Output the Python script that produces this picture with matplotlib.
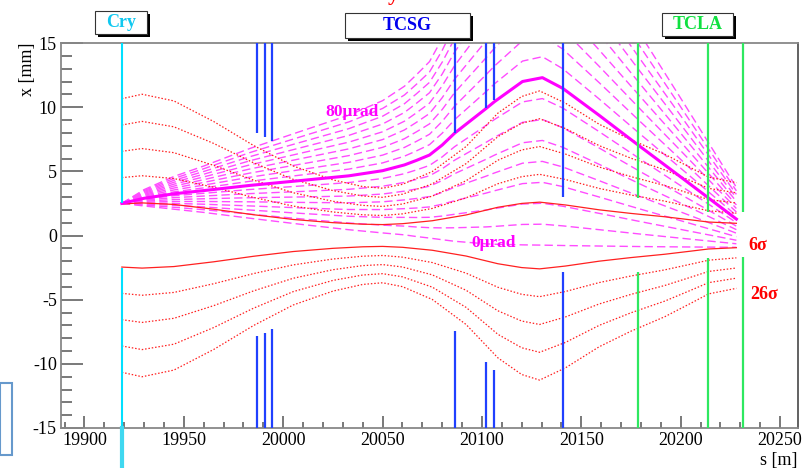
import matplotlib.pyplot as plt
import matplotlib.patches as patches
import numpy as np

plt.rcParams['font.family'] = ['Liberation Serif', 'DejaVu Serif']
plt.rcParams['axes.unicode_minus'] = False

# collimator positions [m] and jaw edges [mm]
cry_s = 19918.8
cry_jaw = 2.5
tcsg_s = [19986.6, 19990.6, 19994.6, 20086.2, 20102.1, 20106.3, 20140.6]
tcsg_up = [7.97, 7.66, 7.37, 7.97, 9.9, 10.55, 2.98]
tcsg_dn = [-7.86, -7.6, -7.29, -7.47, -9.88, -10.45, -2.85]
tcla_s = [20178.3, 20213.8, 20231.4]
tcla_up = [2.91, 1.82, 1.82]
tcla_dn = [-2.85, -1.76, -1.71]

# 6 sigma beam envelope (half width, mm)
env_s = [19918.8, 19929, 19945, 19965, 19985, 20005, 20025, 20040, 20050, 20060,
         20075, 20092, 20108, 20120, 20129, 20142, 20159, 20175, 20192, 20205,
         20214, 20228]
env_6sig = [2.46, 2.54, 2.42, 2.05, 1.62, 1.25, 1.0, 0.88, 0.85, 0.92,
            1.15, 1.6, 2.2, 2.5, 2.6, 2.38, 2.0, 1.72, 1.46, 1.22,
            1.05, 0.95]
n_sigmas = [6, 11, 16, 21, 26]

# channelled trajectories from the crystal: 0 and 80 urad kicks
traj_s = [19918.8, 19930, 19945, 19960, 19983, 20010, 20033, 20050, 20061,
          20067, 20073.6, 20080, 20086.2, 20102.1, 20106.3, 20120.4, 20130.4,
          20140.6, 20159, 20179, 20200, 20228]
traj_0 = [2.5, 2.3, 2.05, 1.8, 1.35, 0.85, 0.45, 0.2, 0.05,
          -0.08, -0.2, -0.33, -0.45, -0.65, -0.68, -0.73, -0.75,
          -0.78, -0.82, -0.86, -0.89, -0.92]
traj_80 = [2.5, 2.9, 3.25, 3.5, 3.9, 4.3, 4.65, 5.05, 5.5,
           5.85, 6.27, 7.05, 7.97, 9.9, 10.43, 12.0, 12.3,
           11.47, 9.36, 7.0, 4.56, 1.28]
kicks = [0, 10, 20, 30, 40, 50, 60, 70, 90, 100, 110, 120, 130, 140, 150, 160, 170]

fig = plt.figure(figsize=(8.11, 4.68), dpi=100)
ax = fig.add_axes([61 / 811, 1 - 428 / 468, 737 / 811, 385 / 468])

env_s = np.array(env_s)
env_6sig = np.array(env_6sig)
traj_s = np.array(traj_s)
traj_0 = np.array(traj_0)
traj_80 = np.array(traj_80)

for k in kicks:
    x = traj_0 + k / 80 * (traj_80 - traj_0)
    ax.plot(traj_s, x, color='#ff4cff', lw=1.0, dashes=(6, 3), zorder=2)
ax.plot(traj_s, traj_80, color='#ff00ff', lw=2.2, zorder=4)

for n in n_sigmas:
    w = env_6sig * n / 6
    if n == 6:
        kw = dict(ls='-')
    else:
        kw = dict(dashes=(1.2, 1.5))
    ax.plot(env_s, w, color='#ff2020', lw=0.9, zorder=3, **kw)
    ax.plot(env_s, -w, color='#ff2020', lw=0.9, zorder=3, **kw)

# crystal
ax.vlines(cry_s, cry_jaw, 15, color='#00e0ff', lw=1.5, zorder=5)
ax.vlines(cry_s, -15, -cry_jaw, color='#00e0ff', lw=1.5, zorder=5)
ax.plot([cry_s, cry_s], [-15, -18.3], color='#40d8f0', lw=3, clip_on=False, zorder=5)
# secondary collimators
ax.vlines(tcsg_s, tcsg_up, 15, color='#2040ff', lw=1.6, zorder=5)
ax.vlines(tcsg_s, -15, tcsg_dn, color='#2040ff', lw=1.6, zorder=5)
# absorbers
ax.vlines(tcla_s, tcla_up, 15, color='#2ee860', lw=1.6, zorder=5)
ax.vlines(tcla_s, -15, tcla_dn, color='#2ee860', lw=1.6, zorder=5)

ax.text(20034.4, 9.63, '80\u03bcrad', color='#ff00ff', fontsize=12.5, fontweight='bold',
        ha='center', va='center', zorder=6)
ax.text(20106, -0.6, '0\u03bcrad', color='#ff00ff', fontsize=12.5, fontweight='bold',
        ha='center', va='center', zorder=6)
ax.text(20238.5, -0.75, '6\u03c3', color='#ff0000', fontsize=13, fontweight='bold',
        ha='center', va='center')
ax.text(20242, -4.6, '26\u03c3', color='#ff0000', fontsize=13, fontweight='bold',
        ha='center', va='center')

ax.set_xlim(19888.2, 20259)
ax.set_ylim(-15, 15)
ax.set_xticks(np.arange(19900, 20251, 50))
ax.set_xticks(np.arange(19890, 20259, 10), minor=True)
ax.set_yticks(np.arange(-15, 16, 5))
ax.set_yticks(np.arange(-15, 16, 1), minor=True)
ax.tick_params(axis='y', which='major', direction='in', length=16, width=1.1,
               color='#555555', labelsize=13, pad=3, right=False)
ax.tick_params(axis='y', which='minor', direction='in', length=8, width=1.1,
               color='#555555', right=False)
ax.tick_params(axis='x', which='major', direction='in', length=8.5, width=1.1,
               color='#555555', labelsize=13, pad=3, top=False)
ax.tick_params(axis='x', which='minor', direction='in', length=4.3, width=1.1,
               color='#555555', top=False)
for sp in ax.spines.values():
    sp.set_color('#888888')
    sp.set_linewidth(1.3)
ax.spines['right'].set_color('#555555')

ax.set_ylabel('x [mm]', fontsize=13, loc='top', labelpad=-2)
ax.set_xlabel('s [m]', fontsize=13, loc='right', labelpad=2)


def label_box(x0, y0, x1, y1, text, color):
    # box corners in figure pixels, measured from the top-left corner
    W, H = 811, 468
    shadow = patches.Rectangle(((x0 + 3) / W, 1 - (y1 + 3) / H),
                               (x1 - x0) / W, (y1 - y0) / H, transform=fig.transFigure,
                               facecolor='black', edgecolor='none')
    box = patches.Rectangle((x0 / W, 1 - y1 / H), (x1 - x0) / W, (y1 - y0) / H,
                            transform=fig.transFigure, facecolor='white',
                            edgecolor='#333333', lw=0.8)
    fig.patches.extend([shadow, box])
    fig.text((x0 + x1) / 2 / W, 1 - (y0 + y1) / 2 / H, text, color=color, fontsize=13,
             fontweight='bold', ha='center', va='center')


label_box(95, 11.5, 147, 34, 'Cry', '#10c8f0')
label_box(345, 13.5, 470, 37.5, 'TCSG', '#0000ee')
label_box(662, 13, 733, 36, 'TCLA', '#10e040')

fig.text(393 / 811, 1.0, 'y', color='#ff0000', fontsize=16, fontweight='bold',
         ha='center', va='baseline')
fig.patches.append(patches.Rectangle((0, 1 - 455 / 468), 12 / 811, 72 / 468,
                                     transform=fig.transFigure, facecolor='none',
                                     edgecolor='#6699cc', lw=1.5))

fig.savefig('out.png', dpi=100)
